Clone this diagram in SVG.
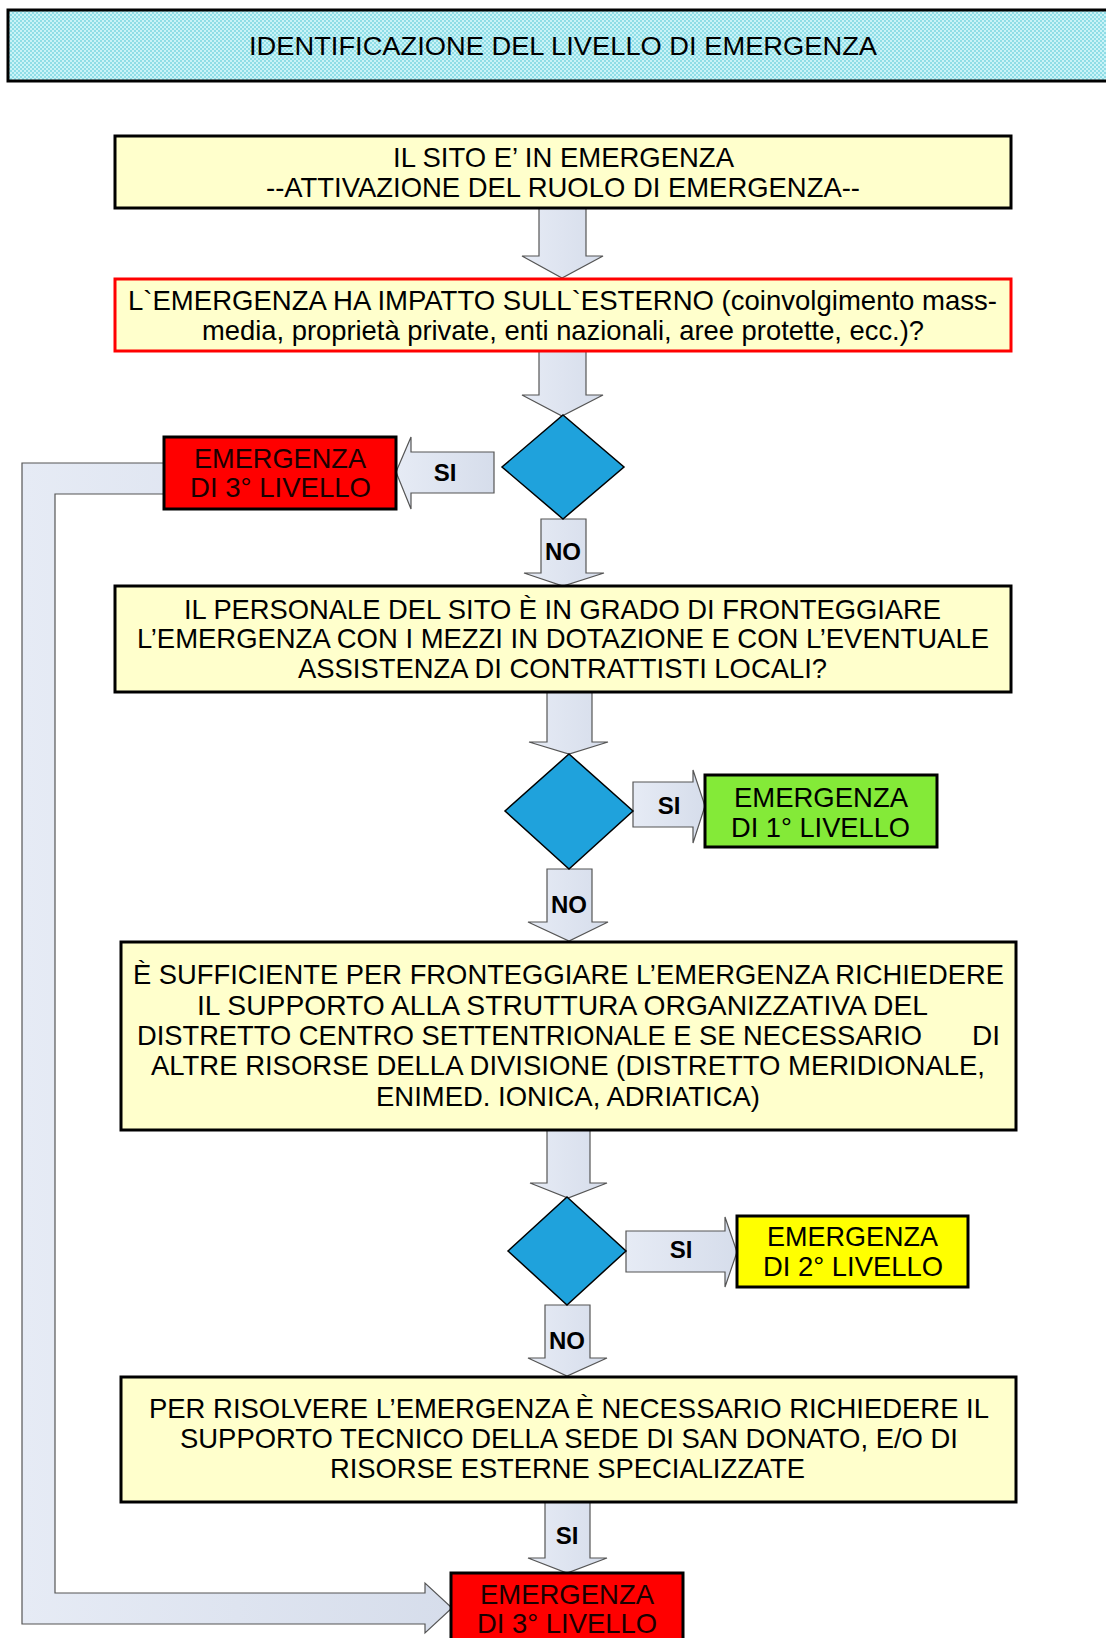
<svg xmlns="http://www.w3.org/2000/svg" width="1106" height="1638" viewBox="0 0 1106 1638">
<defs>
<pattern id="hdr" width="4" height="4" patternUnits="userSpaceOnUse">
<rect width="4" height="4" fill="#c9f3f7"/>
<rect width="2" height="2" fill="#8fdde6"/>
<rect x="2" y="2" width="2" height="2" fill="#8fdde6"/>
</pattern>
<linearGradient id="arr" x1="0" y1="0" x2="1" y2="0">
<stop offset="0" stop-color="#e6ebf5"/>
<stop offset="1" stop-color="#d6ddeb"/>
</linearGradient>
</defs>
<style>
text{font-family:"Liberation Sans",Arial,sans-serif;fill:#000}
.t{font-size:28px}
.e{font-size:28px;fill:#1a0000}
.lbl{font-size:24px;font-weight:bold;text-anchor:middle}
.box{fill:#ffffcc;stroke:#000;stroke-width:3}
.dia{fill:#1fa2dc;stroke:#000;stroke-width:1.5}
.arw{fill:url(#arr);stroke:#555;stroke-width:1.2}
</style>
<rect width="1106" height="1638" fill="#fff"/>

<g id="header">
<rect x="8" y="10" width="1110" height="71" fill="url(#hdr)" stroke="#000" stroke-width="3"/>
<text x="249" y="55" style="font-size:26px" textLength="628" lengthAdjust="spacingAndGlyphs">IDENTIFICAZIONE DEL LIVELLO DI EMERGENZA</text>
</g>

<g id="connectors">
<polygon class="arw" points="539,208 586,208 586,256 603,256 562,278 522,256 539,256"/>
<polygon class="arw" points="539,351 586,351 586,395 603,395 562,416 522,395 539,395"/>
<polygon class="arw" points="494,452 494,493 411,493 411,509 396,472 411,437 411,452"/>
<polygon class="arw" points="541,519 586,519 586,573 604,573 563,586 524,573 541,573"/>
<polygon class="arw" points="547,692 592,692 592,742 608,742 569,754 529,742 547,742"/>
<polygon class="arw" points="633,782 693,782 693,770 705,806 693,843 693,827 633,827"/>
<polygon class="arw" points="547,869 592,869 592,922 608,922 569,941 528,922 547,922"/>
<polygon class="arw" points="547,1130 590,1130 590,1183 607,1183 568,1198 530,1183 547,1183"/>
<polygon class="arw" points="626,1231 725,1231 725,1217 737,1252 725,1287 725,1272 626,1272"/>
<polygon class="arw" points="545,1305 590,1305 590,1358 607,1358 567,1376 528,1358 545,1358"/>
<polygon class="arw" points="545,1502 590,1502 590,1558 607,1558 567,1573 528,1558 545,1558"/>
<polygon class="arw" points="164,463 22,463 22,1624 425,1624 425,1633 452,1608 425,1583 425,1593 55,1593 55,494 164,494"/>
<text class="lbl" x="445" y="481">SI</text>
<text class="lbl" x="563" y="560">NO</text>
<text class="lbl" x="669" y="814">SI</text>
<text class="lbl" x="569" y="913">NO</text>
<text class="lbl" x="681" y="1258">SI</text>
<text class="lbl" x="567" y="1349">NO</text>
<text class="lbl" x="567" y="1544">SI</text>
</g>

<g id="box1">
<rect class="box" x="115" y="136" width="896" height="72"/>
<text class="t" x="393" y="167" textLength="341" lengthAdjust="spacingAndGlyphs">IL SITO E’ IN EMERGENZA</text>
<text class="t" x="266" y="197" textLength="594" lengthAdjust="spacingAndGlyphs">--ATTIVAZIONE DEL RUOLO DI EMERGENZA--</text>
</g>

<g id="box2">
<rect x="115" y="279" width="896" height="72" fill="#ffffcc" stroke="#ff0000" stroke-width="3"/>
<text class="t" x="128" y="310" textLength="869" lengthAdjust="spacingAndGlyphs">L`EMERGENZA HA IMPATTO SULL`ESTERNO (coinvolgimento mass-</text>
<text class="t" x="202" y="340" textLength="722" lengthAdjust="spacingAndGlyphs">media, proprietà private, enti nazionali, aree protette, ecc.)?</text>
</g>

<g id="decision1">
<polygon class="dia" points="563,415 624,467 563,519 502,467"/>
</g>

<g id="level3a">
<rect x="164" y="437" width="232" height="72" fill="#ff0000" stroke="#000" stroke-width="3"/>
<text class="e" x="194" y="468" textLength="172" lengthAdjust="spacingAndGlyphs">EMERGENZA</text>
<text class="e" x="190" y="497" textLength="181" lengthAdjust="spacingAndGlyphs">DI 3° LIVELLO</text>
</g>

<g id="box3">
<rect class="box" x="115" y="586" width="896" height="106"/>
<text class="t" x="184" y="619" textLength="757" lengthAdjust="spacingAndGlyphs">IL PERSONALE DEL SITO È IN GRADO DI FRONTEGGIARE</text>
<text class="t" x="137" y="648" textLength="852" lengthAdjust="spacingAndGlyphs">L’EMERGENZA CON I MEZZI IN DOTAZIONE E CON L’EVENTUALE</text>
<text class="t" x="298" y="678" textLength="529" lengthAdjust="spacingAndGlyphs">ASSISTENZA DI CONTRATTISTI LOCALI?</text>
</g>

<g id="decision2">
<polygon class="dia" points="569,754 633,811 569,869 505,811"/>
</g>

<g id="level1">
<rect x="705" y="775" width="232" height="72" fill="#84ea38" stroke="#000" stroke-width="3"/>
<text class="e" x="734" y="807" textLength="174" lengthAdjust="spacingAndGlyphs" style="fill:#000">EMERGENZA</text>
<text class="e" x="731" y="837" textLength="179" lengthAdjust="spacingAndGlyphs" style="fill:#000">DI 1° LIVELLO</text>
</g>

<g id="box4">
<rect class="box" x="121" y="942" width="895" height="188"/>
<text class="t" x="133" y="984" textLength="871" lengthAdjust="spacingAndGlyphs">È SUFFICIENTE PER FRONTEGGIARE L’EMERGENZA RICHIEDERE</text>
<text class="t" x="197" y="1015" textLength="731" lengthAdjust="spacingAndGlyphs">IL SUPPORTO ALLA STRUTTURA ORGANIZZATIVA DEL</text>
<text class="t" x="137" y="1045" textLength="785" lengthAdjust="spacingAndGlyphs">DISTRETTO CENTRO SETTENTRIONALE E SE NECESSARIO</text>
<text class="t" x="972" y="1045" textLength="28" lengthAdjust="spacingAndGlyphs">DI</text>
<text class="t" x="151" y="1075" textLength="834" lengthAdjust="spacingAndGlyphs">ALTRE RISORSE DELLA DIVISIONE (DISTRETTO MERIDIONALE,</text>
<text class="t" x="376" y="1106" textLength="384" lengthAdjust="spacingAndGlyphs">ENIMED. IONICA, ADRIATICA)</text>
</g>

<g id="decision3">
<polygon class="dia" points="567,1197 626,1251 567,1305 508,1251"/>
</g>

<g id="level2">
<rect x="737" y="1216" width="231" height="71" fill="#ffff00" stroke="#000" stroke-width="3"/>
<text class="e" x="767" y="1246" textLength="171" lengthAdjust="spacingAndGlyphs" style="fill:#000">EMERGENZA</text>
<text class="e" x="763" y="1276" textLength="180" lengthAdjust="spacingAndGlyphs" style="fill:#000">DI 2° LIVELLO</text>
</g>

<g id="box5">
<rect class="box" x="121" y="1377" width="895" height="125"/>
<text class="t" x="149" y="1418" textLength="840" lengthAdjust="spacingAndGlyphs">PER RISOLVERE L’EMERGENZA È NECESSARIO RICHIEDERE IL</text>
<text class="t" x="180" y="1448" textLength="778" lengthAdjust="spacingAndGlyphs">SUPPORTO TECNICO DELLA SEDE DI SAN DONATO, E/O DI</text>
<text class="t" x="330" y="1478" textLength="475" lengthAdjust="spacingAndGlyphs">RISORSE ESTERNE SPECIALIZZATE</text>
</g>

<g id="level3b">
<rect x="451" y="1573" width="232" height="80" fill="#ff0000" stroke="#000" stroke-width="3"/>
<text class="e" x="480" y="1604" textLength="174" lengthAdjust="spacingAndGlyphs">EMERGENZA</text>
<text class="e" x="477" y="1633" textLength="180" lengthAdjust="spacingAndGlyphs">DI 3° LIVELLO</text>
</g>
</svg>
